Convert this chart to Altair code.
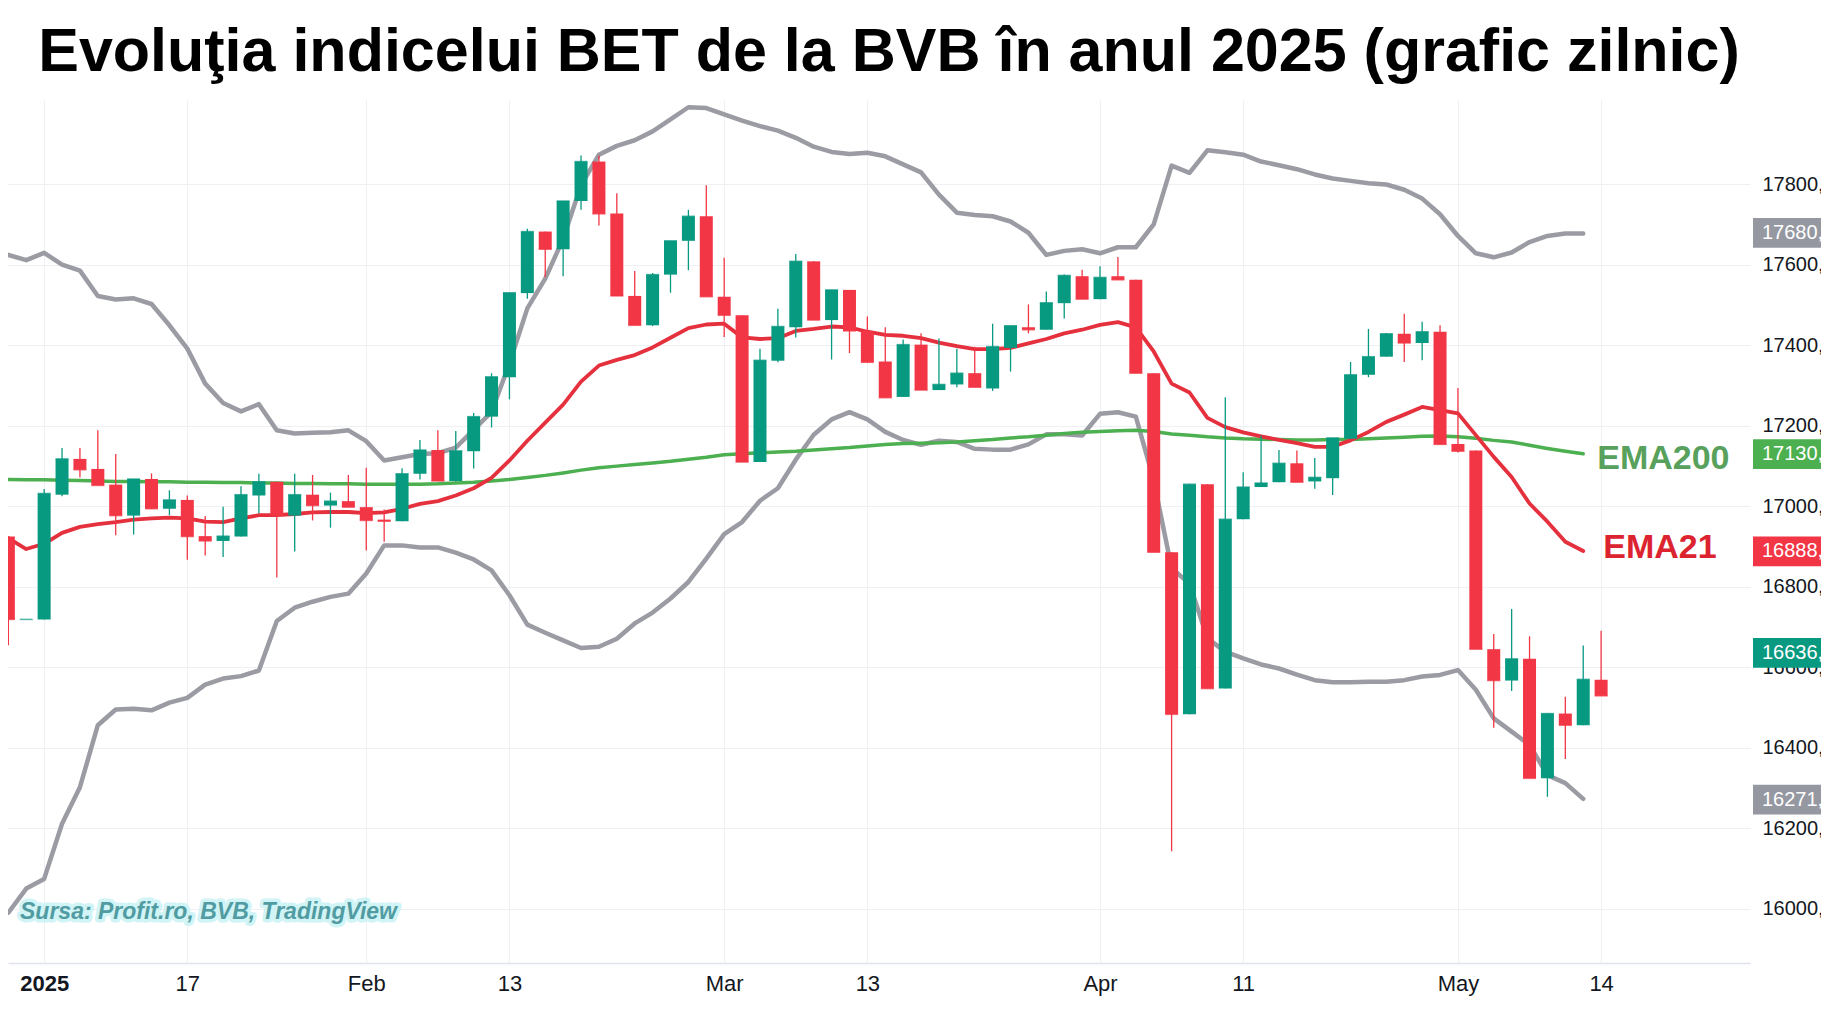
import altair as alt
import pandas as pd

# ---------------- data ----------------
dates = [
    "2024-12-30", "2024-12-31",
    "2025-01-03", "2025-01-08", "2025-01-09", "2025-01-10", "2025-01-13", "2025-01-14",
    "2025-01-15", "2025-01-16", "2025-01-17", "2025-01-20", "2025-01-21", "2025-01-22",
    "2025-01-23", "2025-01-27", "2025-01-28", "2025-01-29", "2025-01-30", "2025-01-31",
    "2025-02-03", "2025-02-04", "2025-02-05", "2025-02-06", "2025-02-07",
    "2025-02-10", "2025-02-11", "2025-02-12", "2025-02-13", "2025-02-14",
    "2025-02-17", "2025-02-18", "2025-02-19", "2025-02-20", "2025-02-21",
    "2025-02-24", "2025-02-25", "2025-02-26", "2025-02-27", "2025-02-28",
    "2025-03-03", "2025-03-04", "2025-03-05", "2025-03-06", "2025-03-07",
    "2025-03-10", "2025-03-11", "2025-03-12", "2025-03-13", "2025-03-14",
    "2025-03-17", "2025-03-18", "2025-03-19", "2025-03-20", "2025-03-21",
    "2025-03-24", "2025-03-25", "2025-03-26", "2025-03-27", "2025-03-28", "2025-03-31",
    "2025-04-01", "2025-04-02", "2025-04-03", "2025-04-04",
    "2025-04-07", "2025-04-08", "2025-04-09", "2025-04-10", "2025-04-11",
    "2025-04-14", "2025-04-15", "2025-04-16", "2025-04-17",
    "2025-04-22", "2025-04-23", "2025-04-24", "2025-04-25",
    "2025-04-28", "2025-04-29", "2025-04-30",
    "2025-05-02", "2025-05-05", "2025-05-06", "2025-05-07", "2025-05-08", "2025-05-09",
    "2025-05-12", "2025-05-13", "2025-05-14",
]

open_ = [16925, 16719, 16719, 17029, 17118, 17093, 17054, 16977, 17068, 16994,
         17016, 16926, 16914, 16925, 17027, 17061, 16977, 17029, 17002, 17013,
         16998, 16967, 16963, 17081, 17140, 17063, 17137, 17223, 17321, 17530,
         17683, 17639, 17759, 17857, 17728, 17523, 17450, 17576, 17660, 17721,
         17521, 17475, 17110, 17362, 17445, 17609, 17463, 17538, 17436, 17360,
         17272, 17402, 17289, 17303, 17331, 17293, 17394, 17445, 17439, 17505,
         17572, 17515, 17572, 17563, 17331, 16886, 16483, 17055, 16547, 16968,
         17048, 17060, 17107, 17062, 17070, 17168, 17327, 17372, 17429, 17406,
         17434, 17155, 17139, 16645, 16567, 16621, 16324, 16485, 16456, 16569]
high = [16925, 16719, 17043, 17145, 17145, 17189, 17130, 17068, 17082, 17040,
        17027, 16976, 16999, 17050, 17081, 17061, 17081, 17078, 17034, 17078,
        17096, 16992, 17095, 17165, 17189, 17187, 17232, 17331, 17531, 17690,
        17683, 17759, 17872, 17872, 17778, 17585, 17580, 17660, 17737, 17798,
        17618, 17475, 17392, 17491, 17627, 17609, 17538, 17538, 17472, 17445,
        17415, 17430, 17417, 17392, 17397, 17454, 17449, 17502, 17534, 17576,
        17588, 17597, 17620, 17563, 17331, 16886, 17056, 17055, 17271, 17085,
        17176, 17140, 17139, 17120, 17170, 17359, 17441, 17431, 17479, 17459,
        17450, 17294, 17139, 16683, 16745, 16677, 16486, 16527, 16654, 16691]
low = [16655, 16719, 16719, 17025, 17072, 17052, 16928, 16930, 16994, 16978,
       16867, 16878, 16874, 16925, 16983, 16823, 16888, 16965, 16947, 16998,
       16890, 16912, 16963, 17067, 17063, 17061, 17094, 17196, 17266, 17516,
       17570, 17572, 17737, 17698, 17523, 17450, 17448, 17531, 17587, 17521,
       17421, 17110, 17110, 17358, 17420, 17463, 17365, 17381, 17358, 17270,
       17272, 17289, 17289, 17296, 17296, 17287, 17335, 17430, 17439, 17467,
       17515, 17515, 17563, 17331, 16886, 16143, 16483, 16547, 16547, 16968,
       17048, 17060, 17060, 17044, 17028, 17168, 17321, 17372, 17359, 17363,
       17154, 17134, 16645, 16450, 16541, 16324, 16278, 16372, 16456, 16529]
close = [16719, 16719, 17032, 17118, 17091, 17052, 16977, 17068, 16994, 17016,
         16925, 16914, 16926, 17029, 17061, 16978, 17029, 17002, 17013, 16998,
         16965, 16963, 17081, 17140, 17063, 17138, 17223, 17322, 17531, 17683,
         17639, 17759, 17857, 17727, 17523, 17450, 17576, 17660, 17721, 17521,
         17475, 17110, 17363, 17447, 17609, 17463, 17538, 17436, 17358, 17270,
         17402, 17289, 17303, 17331, 17296, 17397, 17449, 17439, 17506, 17574,
         17515, 17569, 17563, 17331, 16886, 16483, 17055, 16547, 16968, 17048,
         17058, 17107, 17060, 17072, 17170, 17327, 17372, 17429, 17406, 17434,
         17154, 17137, 16645, 16567, 16621, 16324, 16485, 16456, 16570, 16529]

ema21 = [16921, 16894, 16907, 16934, 16949, 16956, 16961, 16967, 16970, 16972,
         16970, 16962, 16961, 16970, 16978, 16978, 16981, 16985, 16986, 16986,
         16983, 16985, 16994, 17006, 17013, 17027, 17045, 17071, 17114, 17163,
         17208, 17253, 17310, 17350, 17364, 17376, 17395, 17419, 17443, 17452,
         17454, 17420, 17416, 17418, 17436, 17441, 17447, 17445, 17434, 17426,
         17424, 17418, 17407, 17398, 17391, 17391, 17394, 17405, 17416, 17430,
         17439, 17451, 17458, 17445, 17385, 17305, 17283, 17220, 17197, 17184,
         17174, 17165, 17157, 17148, 17148, 17164, 17185, 17210, 17228, 17247,
         17239, 17231, 17177, 17123, 17073, 17007, 16962, 16912, 16889]
ema200 = [17067, 17066, 17066, 17065, 17064, 17063, 17062, 17062, 17061, 17061,
          17060, 17060, 17059, 17059, 17058, 17058, 17057, 17057, 17056, 17056,
          17055, 17055, 17055, 17055, 17056, 17058, 17060, 17063, 17067, 17072,
          17077, 17083, 17090, 17096, 17100, 17104, 17108, 17112, 17117, 17122,
          17128, 17131, 17133, 17135, 17137, 17140, 17143, 17146, 17150, 17154,
          17156, 17157, 17158, 17160, 17163, 17166, 17170, 17173, 17177, 17181,
          17184, 17186, 17188, 17189, 17186, 17180, 17177, 17173, 17170, 17168,
          17167, 17166, 17165, 17165, 17166, 17166, 17168, 17170, 17172, 17174,
          17175, 17173, 17169, 17164, 17160, 17152, 17144, 17137, 17131]
bb_upper = [17625, 17612, 17630, 17601, 17586, 17523, 17514, 17517, 17503, 17450,
            17392, 17305, 17257, 17236, 17254, 17189, 17181, 17183, 17184, 17189,
            17162, 17114, 17122, 17130, 17132, 17146, 17190, 17235, 17355, 17492,
            17566, 17665, 17798, 17874, 17896, 17910, 17932, 17962, 17992, 17990,
            17974, 17959, 17945, 17934, 17916, 17894, 17881, 17876, 17879, 17870,
            17850, 17830, 17775, 17730, 17724, 17721, 17708, 17680, 17625, 17635,
            17639, 17629, 17644, 17644, 17701, 17847, 17829, 17885, 17880, 17874,
            17857, 17848, 17838, 17825, 17815, 17809, 17803, 17800, 17787, 17765,
            17726, 17672, 17629, 17619, 17631, 17657, 17672, 17678, 17678]
bb_lower = [15990, 16050, 16074, 16211, 16302, 16456, 16495, 16497, 16493, 16512,
            16524, 16557, 16572, 16578, 16592, 16715, 16748, 16763, 16775, 16783,
            16833, 16903, 16903, 16898, 16898, 16885, 16868, 16841, 16779, 16706,
            16686, 16667, 16648, 16651, 16671, 16709, 16736, 16771, 16812, 16870,
            16931, 16961, 17014, 17045, 17116, 17178, 17216, 17234, 17216, 17185,
            17165, 17153, 17163, 17160, 17143, 17141, 17141, 17154, 17179, 17179,
            17176, 17230, 17234, 17223, 17065, 16846, 16808, 16672, 16639, 16622,
            16607, 16597, 16582, 16568, 16563, 16563, 16564, 16564, 16568, 16577,
            16581, 16593, 16544, 16473, 16440, 16407, 16332, 16312, 16273]

tick_dates = ["2025-01-03", "2025-01-17", "2025-02-03", "2025-02-13", "2025-03-03",
              "2025-03-13", "2025-04-01", "2025-04-11", "2025-05-02", "2025-05-14"]
tick_labels = ["2025", "17", "Feb", "13", "Mar", "13", "Apr", "11", "May", "14"]
price_ticks = [16000, 16200, 16400, 16600, 16800, 17000, 17200, 17400, 17600, 17800]

box_values = [17680, 17130, 16888, 16636, 16271]
box_colors = ["#9598a1", "#4caf50", "#f23645", "#089981", "#9598a1"]

title_text = "Evoluţia indicelui BET de la BVB în anul 2025 (grafic zilnic)"
source_text = "Sursa: Profit.ro, BVB, TradingView"

# ---------------- styling ----------------
UP = "#089981"
DOWN = "#f23645"
SANS = "Liberation Sans, Arial, sans-serif"
GRID = "#eff0f3"

candles = pd.DataFrame({"date": dates, "open": open_, "high": high,
                        "low": low, "close": close})
candles["pos"] = range(len(candles))

n = len(ema21)
def series_df(vals):
    return pd.DataFrame({"pos": list(range(n)), "value": vals})

tick_pos = [dates.index(d) for d in tick_dates]
label_expr = ""
for p, lab in zip(tick_pos, tick_labels):
    label_expr += f"datum.value == {p} ? '{lab}' : "
label_expr += "''"

xscale = alt.Scale(domain=[0.26, 97.04], nice=False, zero=False)
yscale = alt.Scale(domain=[15865, 18010], nice=False, zero=False)

xaxis = alt.Axis(values=tick_pos, labelExpr=label_expr, title=None, grid=True,
                 gridColor=GRID, gridWidth=1, ticks=False, domain=True,
                 domainColor="#e0e3eb", domainWidth=1.5,
                 labelFontSize=22, labelFont=SANS, labelColor="#131722",
                 labelPadding=10, labelOverlap=False, labelFlush=False,
                 labelFontWeight={"condition": {"test": f"datum.value == {tick_pos[0]}",
                                                "value": "bold"}, "value": "normal"})
yaxis = alt.Axis(orient="right", values=price_ticks, labelExpr="datum.value + ','",
                 title=None, grid=True, gridColor=GRID, gridWidth=1, ticks=False,
                 domain=False, labelFontSize=20, labelFont=SANS,
                 labelColor="#131722", labelPadding=12, labelAlign="left")

X = alt.X("pos:Q", scale=xscale, axis=xaxis)
color_rule = alt.condition("datum.close >= datum.open", alt.value(UP), alt.value(DOWN))

base = alt.Chart(candles)
wicks = base.mark_rule(strokeWidth=1.3, clip=True).encode(
    x=X, y=alt.Y("low:Q", scale=yscale, axis=yaxis), y2="high:Q", color=color_rule)
bodies = base.mark_bar(size=13, clip=True).encode(
    x=X, y=alt.Y("open:Q", scale=yscale, axis=yaxis), y2="close:Q", color=color_rule)
dashes = base.mark_tick(orient="horizontal", thickness=1.5, size=13, clip=True).encode(
    x=X, y=alt.Y("close:Q", scale=yscale, axis=yaxis), color=color_rule)

def line_layer(vals, color, width):
    return alt.Chart(series_df(vals)).mark_line(
        color=color, strokeWidth=width, clip=True, strokeJoin="round", strokeCap="round"
    ).encode(x=X, y=alt.Y("value:Q", scale=yscale, axis=yaxis))

l_up = line_layer(bb_upper, "#9a9ba3", 4.5)
l_lo = line_layer(bb_lower, "#9a9ba3", 4.5)
l_200 = line_layer(ema200, "#4caf50", 3.5)
l_21 = line_layer(ema21, "#e5303e", 3.8)

# labels next to the last point of each EMA
last200 = pd.DataFrame({"pos": [n - 1], "value": [ema200[-1]], "t": ["EMA200"]})
last21 = pd.DataFrame({"pos": [n - 1], "value": [ema21[-1]], "t": ["EMA21"]})
lab200 = alt.Chart(last200).mark_text(align="left", baseline="middle", dx=14, dy=5,
                                      fontSize=34, font=SANS, fontWeight="bold",
                                      color="#58a15c").encode(
    x=X, y=alt.Y("value:Q", scale=yscale, axis=yaxis), text="t:N")
lab21 = alt.Chart(last21).mark_text(align="left", baseline="middle", dx=20, dy=-3,
                                    fontSize=34, font=SANS, fontWeight="bold",
                                    color="#dc2431").encode(
    x=X, y=alt.Y("value:Q", scale=yscale, axis=yaxis), text="t:N")

# source note with a soft glow
src = pd.DataFrame({"t": [source_text]})
src_glow = alt.Chart(src).mark_text(align="left", baseline="middle", fontSize=23,
                                    font=SANS, fontStyle="italic", fontWeight="bold",
                                    color="#cdf3f6", stroke="#cdf3f6", strokeWidth=7,
                                    strokeJoin="round", opacity=0.9).encode(
    x=alt.value(12), y=alt.value(812), text="t:N")
src_text = alt.Chart(src).mark_text(align="left", baseline="middle", fontSize=23,
                                    font=SANS, fontStyle="italic", fontWeight="bold",
                                    color="#519ca2").encode(
    x=alt.value(12), y=alt.value(812), text="t:N")

# price boxes on the right scale
boxes = pd.DataFrame({"v": box_values, "c": box_colors,
                      "t": [f"{v}," for v in box_values]})
box_rect = alt.Chart(boxes).mark_rect(clip=False).transform_calculate(
    lo="datum.v - 37", hi="datum.v + 37").encode(
    x=alt.value(1745), x2=alt.value(1830),
    y=alt.Y("lo:Q", scale=yscale, axis=yaxis), y2="hi:Q",
    color=alt.Color("c:N", scale=None))
box_text = alt.Chart(boxes).mark_text(align="left", baseline="middle", fontSize=20,
                                      font=SANS, color="white", clip=False).encode(
    x=alt.value(1754), y=alt.Y("v:Q", scale=yscale, axis=yaxis), text="t:N")

chart = alt.layer(
    l_up, l_lo, l_200, l_21, wicks, bodies, dashes,
    lab200, lab21, src_glow, src_text, box_rect, box_text
).properties(
    width=1742, height=863,
    autosize=alt.AutoSizeParams(type="none"),
    padding={"left": 0, "top": 92, "right": 71, "bottom": 39},
    title=alt.TitleParams(title_text, fontSize=61, font=SANS, fontWeight="bold",
                          color="black", anchor="middle", dx=10, dy=50, offset=18,
                          baseline="alphabetic"),
    background="white",
).configure_view(stroke=None)

chart.save("out.html", embed_options={"renderer": "svg", "actions": False})
